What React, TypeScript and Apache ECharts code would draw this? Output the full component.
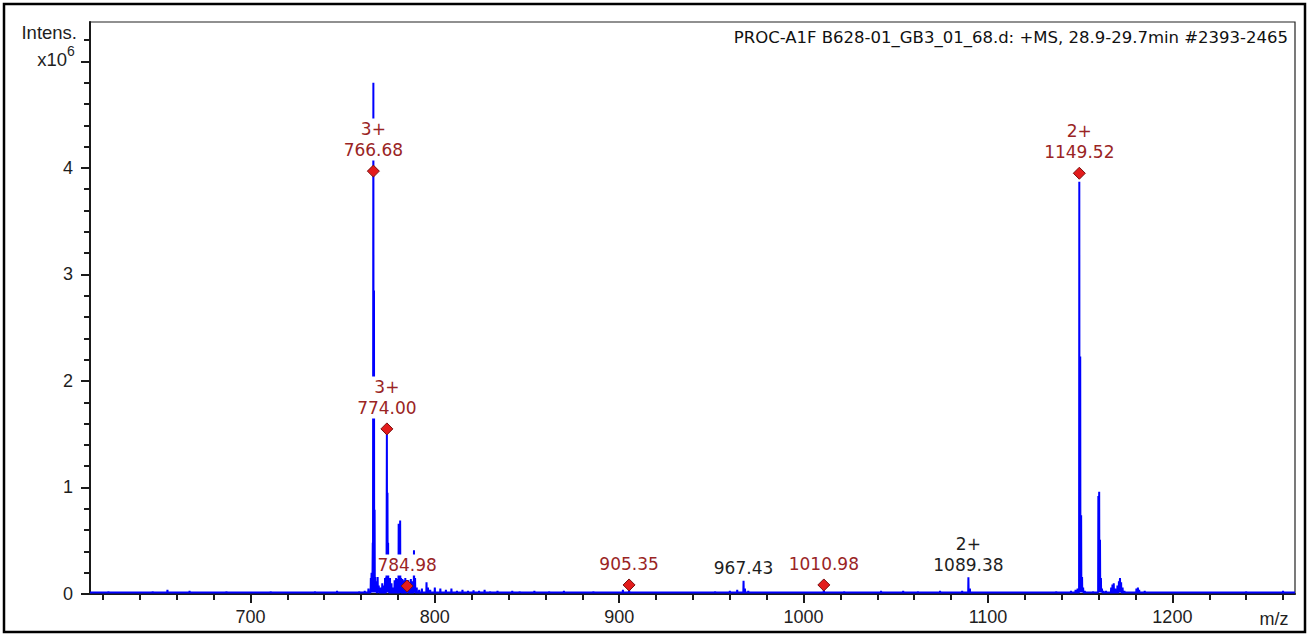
import React, { useEffect, useRef } from 'react';
import * as echarts from 'echarts';

// ---------- data ----------
const chartTitle = 'PROC-A1F B628-01_GB3_01_68.d: +MS, 28.9-29.7min #2393-2465';
const xMin = 613;
const xMax = 1266.5;
const yMin = 0;
const yMax = 5.37;

const xMajorTicks = [700, 800, 900, 1000, 1100, 1200];
const xMinorTicks = [
  620, 640, 660, 680, 720, 740, 760, 780, 820, 840, 860, 880, 920, 940, 960, 980,
  1020, 1040, 1060, 1080, 1120, 1140, 1160, 1180, 1220, 1240, 1260,
];
const yMajorTicks = [0, 1, 2, 3, 4, 5];
const yTickLabels = ['0', '1', '2', '3', '4', ''];
const yMinorTicks = [
  0.2, 0.4, 0.6, 0.8, 1.2, 1.4, 1.6, 1.8, 2.2, 2.4, 2.6, 2.8, 3.2, 3.4, 3.6, 3.8,
  4.2, 4.4, 4.6, 4.8, 5.2,
];

// intensities in units of 10^6
const peakSticks: [number, number][] = [
  [765.3, 0.15], [765.7, 0.2], [766.02, 0.2], [766.35, 0.48], [766.68, 4.8], [767.01, 2.85],
  [767.35, 0.79], [767.68, 0.16], [768.3, 0.12], [769.0, 0.16], [769.6, 0.08], [770.5, 0.06],
  [771.5, 0.1], [772.3, 0.08], [773.0, 0.15], [773.67, 0.16], [774.0, 1.52], [774.33, 0.95],
  [774.67, 0.48], [775.0, 0.14], [775.7, 0.15], [776.5, 0.1], [777.3, 0.06], [778.2, 0.13],
  [779.0, 0.15], [779.7, 0.14], [780.4, 0.66], [781.2, 0.69], [781.7, 0.15], [782.4, 0.14],
  [783.3, 0.13], [784.0, 0.15], [784.98, 0.08], [785.6, 0.13], [786.3, 0.1], [787.0, 0.14],
  [787.8, 0.12], [788.7, 0.41], [789.3, 0.15], [790.2, 0.06], [791.5, 0.04], [793.0, 0.05],
  [795.5, 0.11], [796.3, 0.06], [797.5, 0.04],
  [1147.5, 0.04], [1148.6, 0.05], [1149.52, 3.87], [1150.02, 2.23], [1150.52, 0.74],
  [1151.02, 0.16], [1151.6, 0.06], [1152.5, 0.03],
  [1159.85, 0.92], [1160.3, 0.96], [1160.75, 0.51], [1161.25, 0.15], [1161.8, 0.05], [1162.6, 0.03],
  [1166.8, 0.06], [1167.5, 0.09], [1168.2, 0.1], [1169.0, 0.05], [1170.2, 0.08], [1171.0, 0.12],
  [1171.6, 0.15], [1172.2, 0.11], [1173.0, 0.06], [1174.0, 0.03],
  [1180.5, 0.05], [1181.3, 0.06], [1182.0, 0.04],
];

const noiseSticks: [number, number][] = [
  [615, 0.02], [619, 0.015], [623, 0.025], [627, 0.01], [631, 0.02], [635, 0.015], [639, 0.02],
  [643, 0.01], [647, 0.025], [651, 0.02], [655, 0.04], [659, 0.02], [663, 0.015], [667, 0.03],
  [671, 0.02], [675, 0.015], [679, 0.02], [683, 0.01], [687, 0.025], [691, 0.02], [695, 0.015],
  [699, 0.02], [703, 0.02], [707, 0.015], [711, 0.025], [715, 0.02], [719, 0.015], [723, 0.02],
  [727, 0.01], [731, 0.02], [735, 0.025], [739, 0.015], [743, 0.02], [747, 0.03], [751, 0.02],
  [755, 0.015], [759, 0.025], [762, 0.03], [764, 0.05],
  [800, 0.06], [803, 0.05], [806, 0.04], [809, 0.05], [812, 0.03], [815, 0.04], [818, 0.03],
  [821, 0.035], [824, 0.03], [827, 0.04], [830, 0.025], [834, 0.03], [838, 0.02], [842, 0.03],
  [846, 0.025], [850, 0.02], [854, 0.03], [858, 0.02], [862, 0.025], [866, 0.02], [870, 0.03],
  [874, 0.02], [878, 0.015], [882, 0.02], [886, 0.025], [890, 0.015], [894, 0.02], [898, 0.015],
  [902, 0.04], [905.35, 0.06], [908, 0.02], [912, 0.015], [916, 0.02], [920, 0.015], [924, 0.02],
  [928, 0.015], [932, 0.02], [936, 0.015], [940, 0.02], [944, 0.015], [948, 0.02], [952, 0.025],
  [956, 0.02], [960, 0.03], [964, 0.04], [967.43, 0.125], [968.2, 0.05], [970, 0.03], [974, 0.02],
  [978, 0.015], [982, 0.02], [986, 0.015], [990, 0.02], [994, 0.015], [998, 0.02], [1002, 0.015],
  [1006, 0.02], [1010.98, 0.04], [1014, 0.02], [1018, 0.015], [1022, 0.025], [1026, 0.02],
  [1030, 0.015], [1034, 0.02], [1038, 0.02], [1042, 0.03], [1046, 0.015], [1050, 0.02],
  [1054, 0.03], [1058, 0.02], [1062, 0.025], [1066, 0.02], [1070, 0.02], [1074, 0.03],
  [1078, 0.02], [1082, 0.02], [1086, 0.03], [1089.38, 0.157], [1090.2, 0.05], [1093, 0.02],
  [1097, 0.015], [1101, 0.02], [1105, 0.015], [1109, 0.02], [1113, 0.015], [1117, 0.02],
  [1121, 0.015], [1125, 0.02], [1129, 0.015], [1133, 0.02], [1137, 0.025], [1141, 0.02],
  [1145, 0.03], [1155, 0.02], [1157, 0.025], [1164, 0.03], [1177, 0.02], [1185, 0.03],
  [1188, 0.02], [1192, 0.015], [1196, 0.02], [1200, 0.015], [1204, 0.02], [1208, 0.015],
  [1212, 0.02], [1216, 0.015], [1220, 0.01], [1224, 0.015], [1228, 0.02], [1232, 0.015],
  [1236, 0.02], [1240, 0.025], [1244, 0.02], [1248, 0.015], [1252, 0.02], [1256, 0.015],
  [1260, 0.03], [1264, 0.02],
];

const annMz = [766.68, 774.0, 784.98, 905.35, 967.43, 1010.98, 1089.38, 1149.52];
const annY = [3.97, 1.55, 0.075, 0.085, 0.125, 0.085, 0.157, 3.95];
const annCharge = ['3+', '3+', '', '', '', '', '2+', '2+'];
const annMarked = [true, true, true, true, false, true, false, true];

// ---------- styling ----------
const BLUE = '#0000ff';
const LABEL_RED = '#9a2424';
const LABEL_DARK = '#1e1e1e';
const AXIS_DARK = '#1a1a1a';
const TICK_FONT = 'Liberation Sans';
const ANN_FONT = 'DejaVu Sans';

function buildProfile(): [number, number][] {
  const base = 0.014;
  const hw = 0.12;
  const sticks = [...peakSticks, ...noiseSticks].sort((a, b) => a[0] - b[0]);
  const pts: [number, number][] = [[xMin, base]];
  for (const [mz, v] of sticks) {
    pts.push([mz - hw, base], [mz, v], [mz + hw, base]);
  }
  pts.push([xMax, base]);
  return pts;
}

export default function App() {
  const ref = useRef<HTMLDivElement>(null);

  useEffect(() => {
    if (!ref.current) return;
    const chart = echarts.init(ref.current, undefined, { renderer: 'svg' });

    const annData = annMz.map((mz, i) => {
      const txt = annCharge[i] ? `${annCharge[i]}\n${mz.toFixed(2)}` : mz.toFixed(2);
      const red = annMarked[i];
      return {
        value: [mz, annY[i]],
        symbolSize: annMarked[i] ? 12 : 0,
        label: {
          formatter: txt,
          color: red ? LABEL_RED : LABEL_DARK,
          distance: annMarked[i] ? 4 : 2,
        },
      };
    });

    const option: any = {
      animation: false,
      backgroundColor: '#ffffff',
      grid: {
        left: 90,
        right: 14,
        top: 22,
        bottom: 42,
        show: true,
        borderColor: '#222',
        borderWidth: 1.2,
        containLabel: false,
      },
      title: {
        text: chartTitle,
        right: 16,
        top: 24,
        textStyle: {
          fontFamily: ANN_FONT,
          fontSize: 16.5,
          fontWeight: 'normal',
          color: '#111',
        },
      },
      xAxis: [
        {
          type: 'value',
          min: xMin,
          max: xMax,
          position: 'bottom',
          axisLine: { show: true, onZero: false, lineStyle: { color: AXIS_DARK, width: 2 } },
          axisTick: {
            show: true,
            customValues: xMajorTicks,
            length: 9,
            lineStyle: { color: AXIS_DARK, width: 2 },
          },
          axisLabel: {
            customValues: xMajorTicks,
            margin: 14,
            fontFamily: TICK_FONT,
            fontSize: 18,
            color: LABEL_DARK,
            formatter: (v: number) => String(v),
          },
          splitLine: { show: false },
        },
        {
          type: 'value',
          min: xMin,
          max: xMax,
          position: 'bottom',
          axisLine: { show: false },
          axisTick: {
            show: true,
            customValues: xMinorTicks,
            length: 6,
            lineStyle: { color: AXIS_DARK, width: 2 },
          },
          axisLabel: { show: false },
          splitLine: { show: false },
        },
      ],
      yAxis: [
        {
          type: 'value',
          min: yMin,
          max: yMax,
          position: 'left',
          axisLine: { show: true, onZero: false, lineStyle: { color: AXIS_DARK, width: 2 } },
          axisTick: {
            show: true,
            customValues: yMajorTicks,
            length: 9,
            lineStyle: { color: AXIS_DARK, width: 2 },
          },
          axisLabel: {
            customValues: yMajorTicks,
            margin: 17,
            fontFamily: TICK_FONT,
            fontSize: 18,
            color: LABEL_DARK,
            formatter: (v: number) => {
              const idx = yMajorTicks.indexOf(v);
              return idx >= 0 ? yTickLabels[idx] : '';
            },
          },
          splitLine: { show: false },
        },
        {
          type: 'value',
          min: yMin,
          max: yMax,
          position: 'left',
          axisLine: { show: false },
          axisTick: {
            show: true,
            customValues: yMinorTicks,
            length: 6,
            lineStyle: { color: AXIS_DARK, width: 2 },
          },
          axisLabel: { show: false },
          splitLine: { show: false },
        },
      ],
      graphic: [
        {
          type: 'rect',
          shape: { x: 4, y: 4, width: 1301, height: 628 },
          style: { fill: 'none', stroke: '#000', lineWidth: 2.5 },
          silent: true,
          z: 100,
        },
        {
          type: 'text',
          x: 77,
          y: 32,
          style: {
            text: 'Intens.',
            fontFamily: TICK_FONT,
            fontSize: 18.5,
            fill: LABEL_DARK,
            align: 'right',
            verticalAlign: 'middle',
          },
        },
        {
          type: 'text',
          x: 67,
          y: 59,
          style: {
            text: 'x10',
            fontFamily: TICK_FONT,
            fontSize: 18.5,
            fill: LABEL_DARK,
            align: 'right',
            verticalAlign: 'middle',
          },
        },
        {
          type: 'text',
          x: 67,
          y: 51,
          style: {
            text: '6',
            fontFamily: TICK_FONT,
            fontSize: 14,
            fill: LABEL_DARK,
            align: 'left',
            verticalAlign: 'middle',
          },
        },
        {
          type: 'text',
          x: 1274,
          y: 619,
          style: {
            text: 'm/z',
            fontFamily: TICK_FONT,
            fontSize: 18,
            fill: LABEL_DARK,
            align: 'center',
            verticalAlign: 'middle',
          },
        },
      ],
      series: [
        {
          type: 'line',
          name: 'spectrum',
          xAxisIndex: 0,
          yAxisIndex: 0,
          data: buildProfile(),
          symbol: 'none',
          lineStyle: { color: BLUE, width: 2 },
          itemStyle: { color: BLUE },
          silent: true,
          z: 2,
        },
        {
          type: 'scatter',
          name: 'annotations',
          xAxisIndex: 0,
          yAxisIndex: 0,
          data: annData,
          symbol: 'diamond',
          itemStyle: { color: '#e31c1c', borderColor: '#7a1010', borderWidth: 1, opacity: 1 },
          label: {
            show: true,
            position: 'top',
            fontFamily: ANN_FONT,
            fontSize: 17,
            lineHeight: 21,
            align: 'center',
            backgroundColor: '#ffffff',
            opacity: 1,
          },
          emphasis: { disabled: true },
          silent: true,
          z: 5,
        },
      ],
    };

    chart.setOption(option);
    return () => chart.dispose();
  }, []);

  return (
    <div
      ref={ref}
      style={{ position: 'fixed', left: 0, top: 0, width: 1309, height: 636, background: '#fff' }}
    />
  );
}
